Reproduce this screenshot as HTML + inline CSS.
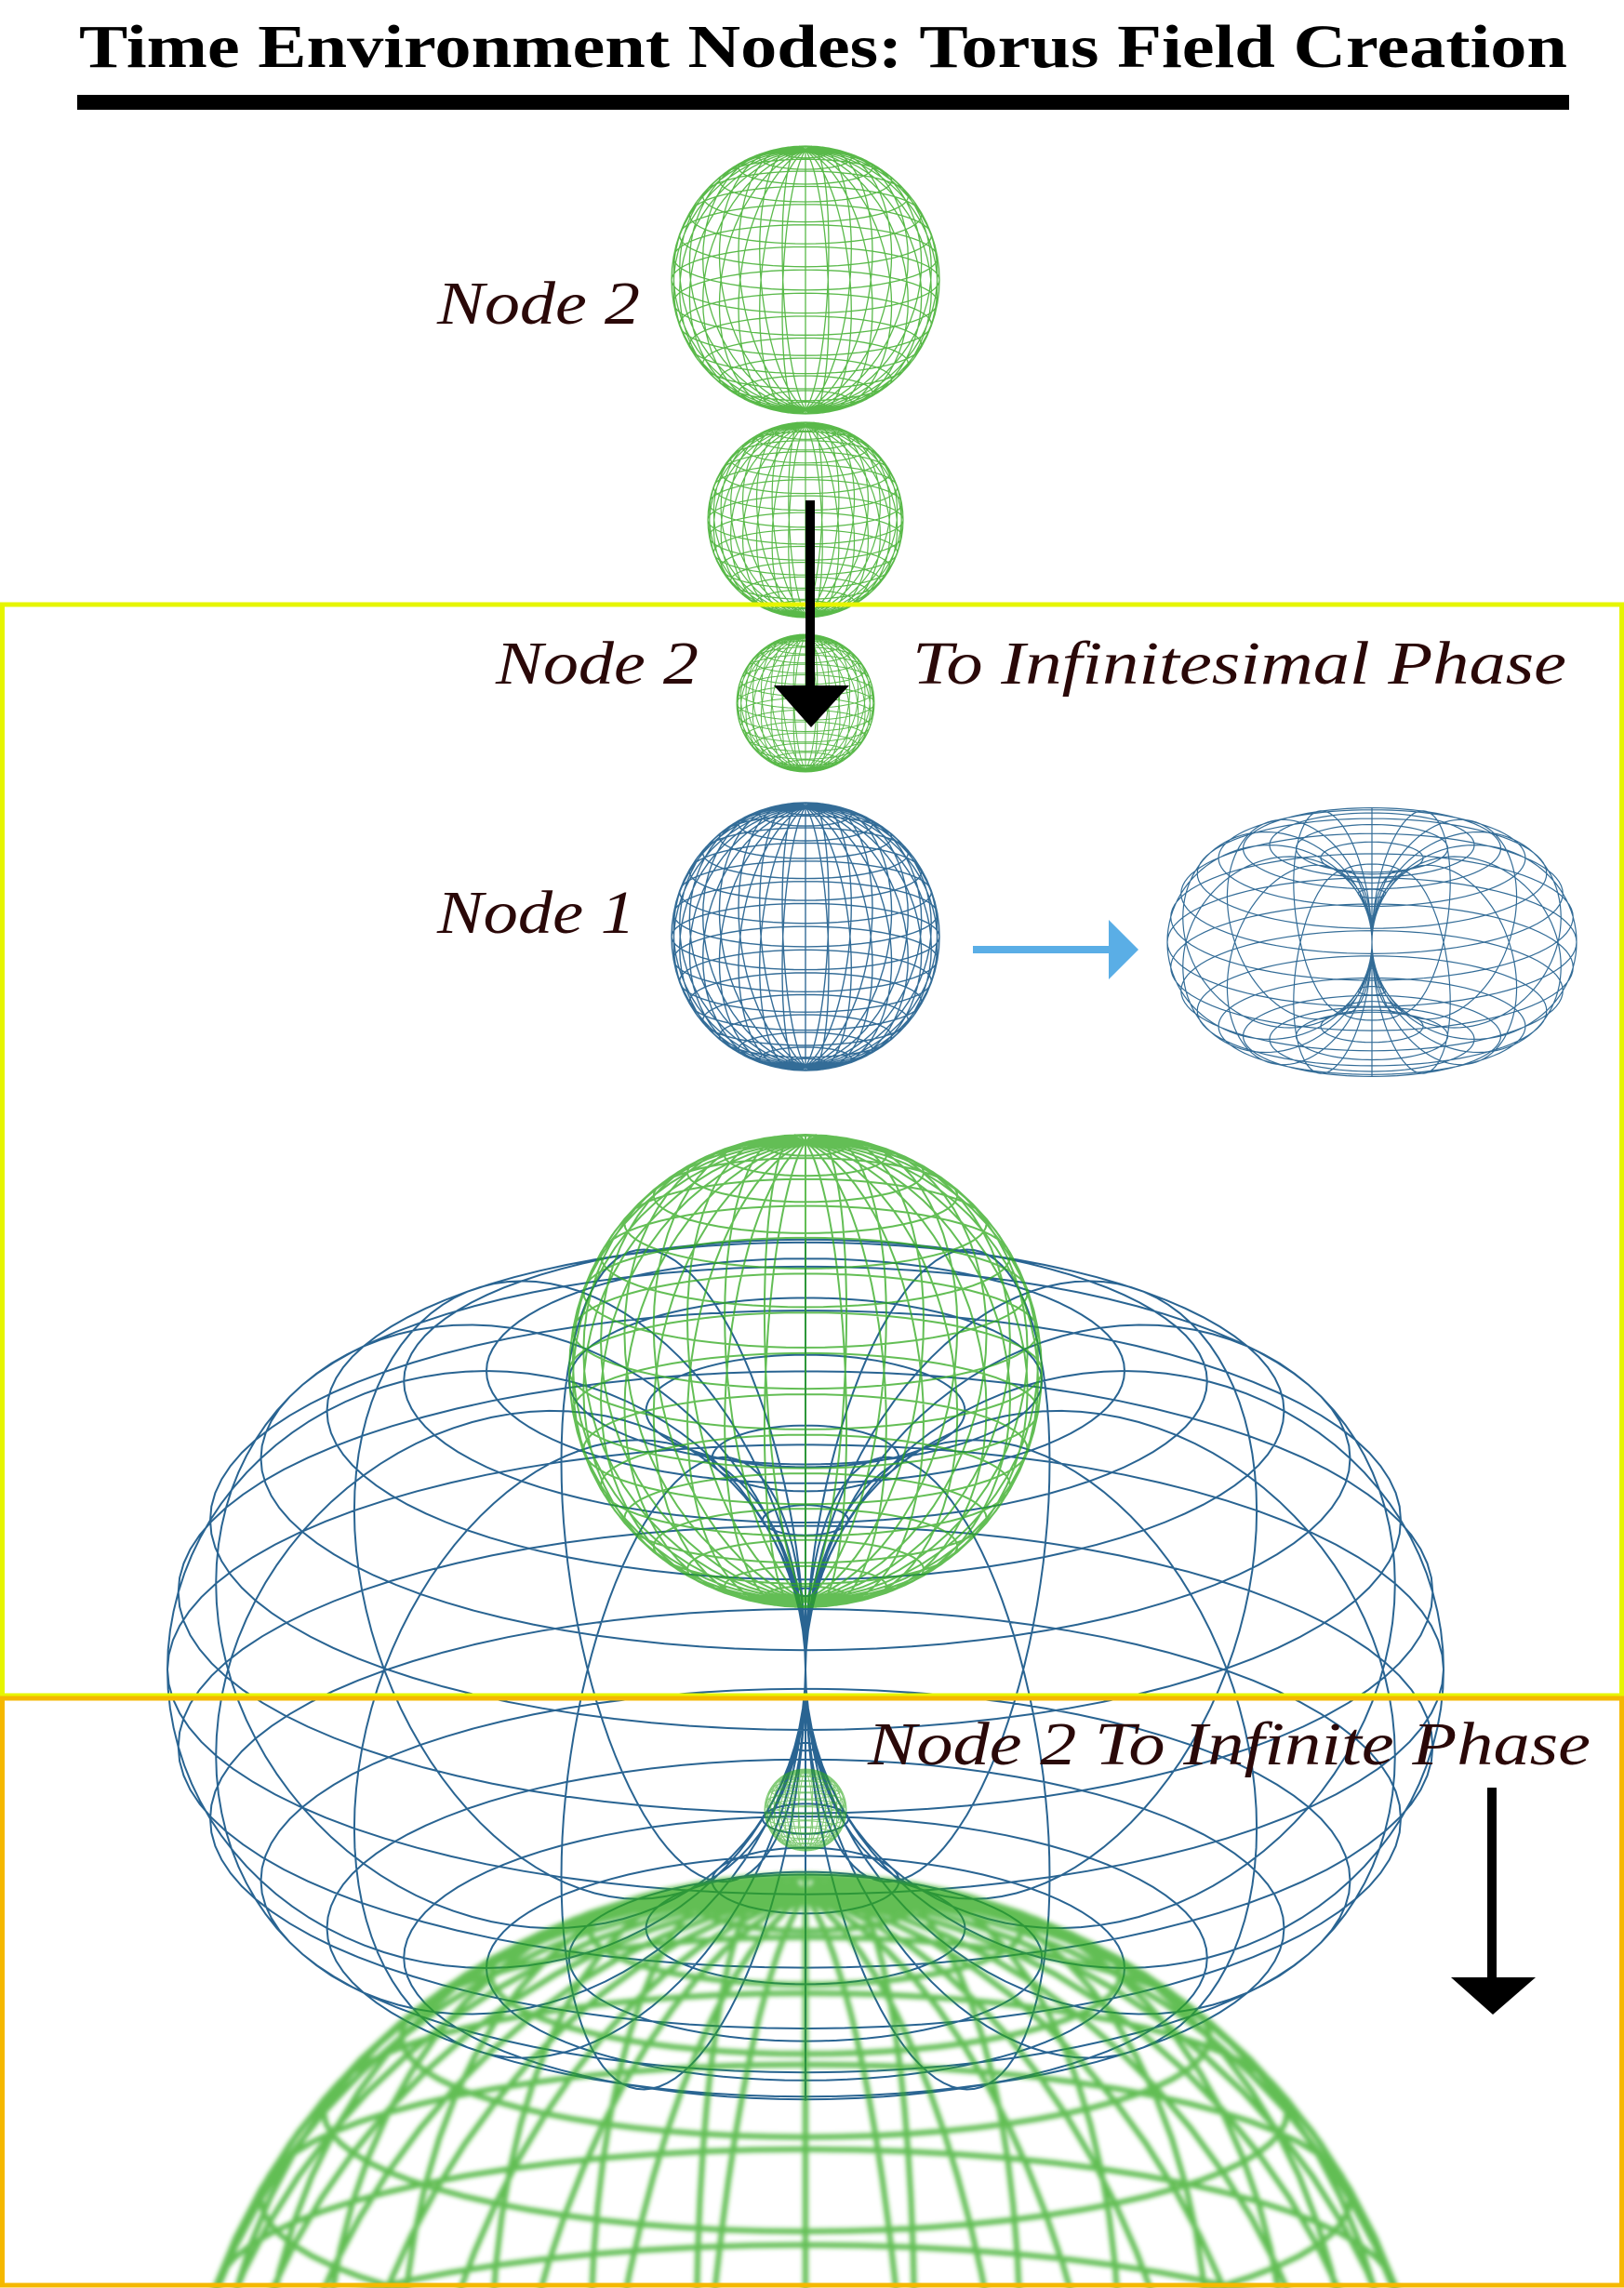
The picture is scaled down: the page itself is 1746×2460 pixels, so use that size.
<!DOCTYPE html>
<html><head><meta charset="utf-8"><style>
html,body{margin:0;padding:0;background:#fff;width:1746px;height:2460px;overflow:hidden;}
svg{display:block;}
.lbl{font-family:"Liberation Serif",serif;font-style:italic;fill:#2a0808;}
</style></head><body>
<svg id="s" xmlns="http://www.w3.org/2000/svg" width="1746" height="2460" viewBox="0 0 1746 2460" style="overflow:hidden">
<defs><filter id="bl" x="-10%" y="-10%" width="120%" height="120%"><feGaussianBlur stdDeviation="2.5"/></filter></defs>
<rect width="1746" height="2460" fill="#fff"/>
<text x="885" y="72" text-anchor="middle" font-family="Liberation Serif,serif" font-weight="bold" font-size="66" textLength="1600" lengthAdjust="spacingAndGlyphs">Time Environment Nodes: Torus Field Creation</text>
<rect x="83" y="102" width="1604" height="16" fill="#000"/>
<g id="g"></g>
<rect x="2.5" y="650" width="1741" height="1173" fill="none" stroke="#e6f500" stroke-width="5"/>
<rect x="2.5" y="1826" width="1741" height="631" fill="none" stroke="#f5b800" stroke-width="5"/>
<rect x="866" y="538" width="10" height="200" fill="#000"/>
<polygon points="832,737 913,737 872,782" fill="#000"/>
<rect x="1046" y="1017" width="155" height="8" fill="#5aaee6"/>
<polygon points="1192,989 1224,1021 1192,1053" fill="#5aaee6"/>
<rect x="1599" y="1922" width="10" height="208" fill="#000"/>
<polygon points="1560,2126 1651,2126 1605,2166" fill="#000"/>
<text class="lbl" x="470" y="348" font-size="66" textLength="218" lengthAdjust="spacingAndGlyphs">Node 2</text>
<text class="lbl" x="533" y="735" font-size="66" textLength="218" lengthAdjust="spacingAndGlyphs">Node 2</text>
<text class="lbl" x="981" y="735" font-size="66" textLength="703" lengthAdjust="spacingAndGlyphs">To Infinitesimal Phase</text>
<text class="lbl" x="470" y="1003" font-size="66" textLength="213" lengthAdjust="spacingAndGlyphs">Node 1</text>
<text class="lbl" x="933" y="1897" font-size="66" textLength="777" lengthAdjust="spacingAndGlyphs">Node 2 To Infinite Phase</text>
</svg>
<script>
var g=document.getElementById('g'),NS='http://www.w3.org/2000/svg';
function P(x,y,z,t,cx,cy){var yy=y*Math.cos(t)-z*Math.sin(t);return [cx+x,cy-yy];}
function add(d,col,w,op,blur){var p=document.createElementNS(NS,'path');p.setAttribute('d',d);p.setAttribute('fill','none');p.setAttribute('stroke',col);p.setAttribute('stroke-width',w);p.setAttribute('stroke-opacity',op);if(blur)p.setAttribute('filter','url(#bl)');g.appendChild(p);}
function poly(pts){var s='';for(var i=0;i<pts.length;i++)s+=(i?'L':'M')+pts[i][0].toFixed(1)+' '+pts[i][1].toFixed(1);return s;}
function sphere(cx,cy,r,col,w,op,blur,ry){ry=ry||r;var t=0.25,d='',N=72;
 for(var la=-80;la<=80;la+=10){var pts=[],a=la*Math.PI/180;for(var i=0;i<=N;i++){var b=i/N*2*Math.PI;var q=P(r*Math.cos(a)*Math.cos(b),ry*Math.sin(a),r*Math.cos(a)*Math.sin(b),t,cx,cy);pts.push(q);}d+=poly(pts);}
 for(var lo=0;lo<180;lo+=10){var pts=[],b=lo*Math.PI/180;for(var i=0;i<=N;i++){var a=i/N*2*Math.PI;pts.push(P(r*Math.cos(a)*Math.cos(b),ry*Math.sin(a),r*Math.cos(a)*Math.sin(b),t,cx,cy));}d+=poly(pts);}
 var pts=[];for(var i=0;i<=N;i++){var a=i/N*2*Math.PI;pts.push([cx+r*Math.cos(a),cy+ry*Math.sin(a)]);}d+=poly(pts);
 add(d,col,w,op,blur);}
function torus(cx,cy,R,r,col,w,op,t){var d='',N=96;
 for(var k=0;k<24;k++){var u=k/24*2*Math.PI,pts=[];for(var i=0;i<=N;i++){var v=i/N*2*Math.PI;var rr=R+r*Math.cos(u);pts.push(P(rr*Math.cos(v),r*Math.sin(u),rr*Math.sin(v),t,cx,cy));}d+=poly(pts);}
 for(var k=0;k<16;k++){var v=k/16*2*Math.PI,pts=[];for(var i=0;i<=N;i++){var u=i/N*2*Math.PI;var rr=R+r*Math.cos(u);pts.push(P(rr*Math.cos(v),r*Math.sin(u),rr*Math.sin(v),t,cx,cy));}d+=poly(pts);}
 add(d,col,w,op);}
var G='#2fa81c',B='#1d5c8c';
sphere(866,301,144,G,1.3,0.8);
sphere(866,559,105,G,1.2,0.8);
sphere(866,756,74,G,1,0.8);
sphere(866,1007,144,B,1.4,0.9);
torus(1475,1013,110,110,B,1.2,0.9,0.32);
torus(866,1795,343,343,B,2,0.95,0.36);
sphere(866,1474,254,G,2,0.75);
sphere(866,1946,44,G,1,0.6);
sphere(866,2692,676,G,6,0.75,true);
</script>
</body></html>
